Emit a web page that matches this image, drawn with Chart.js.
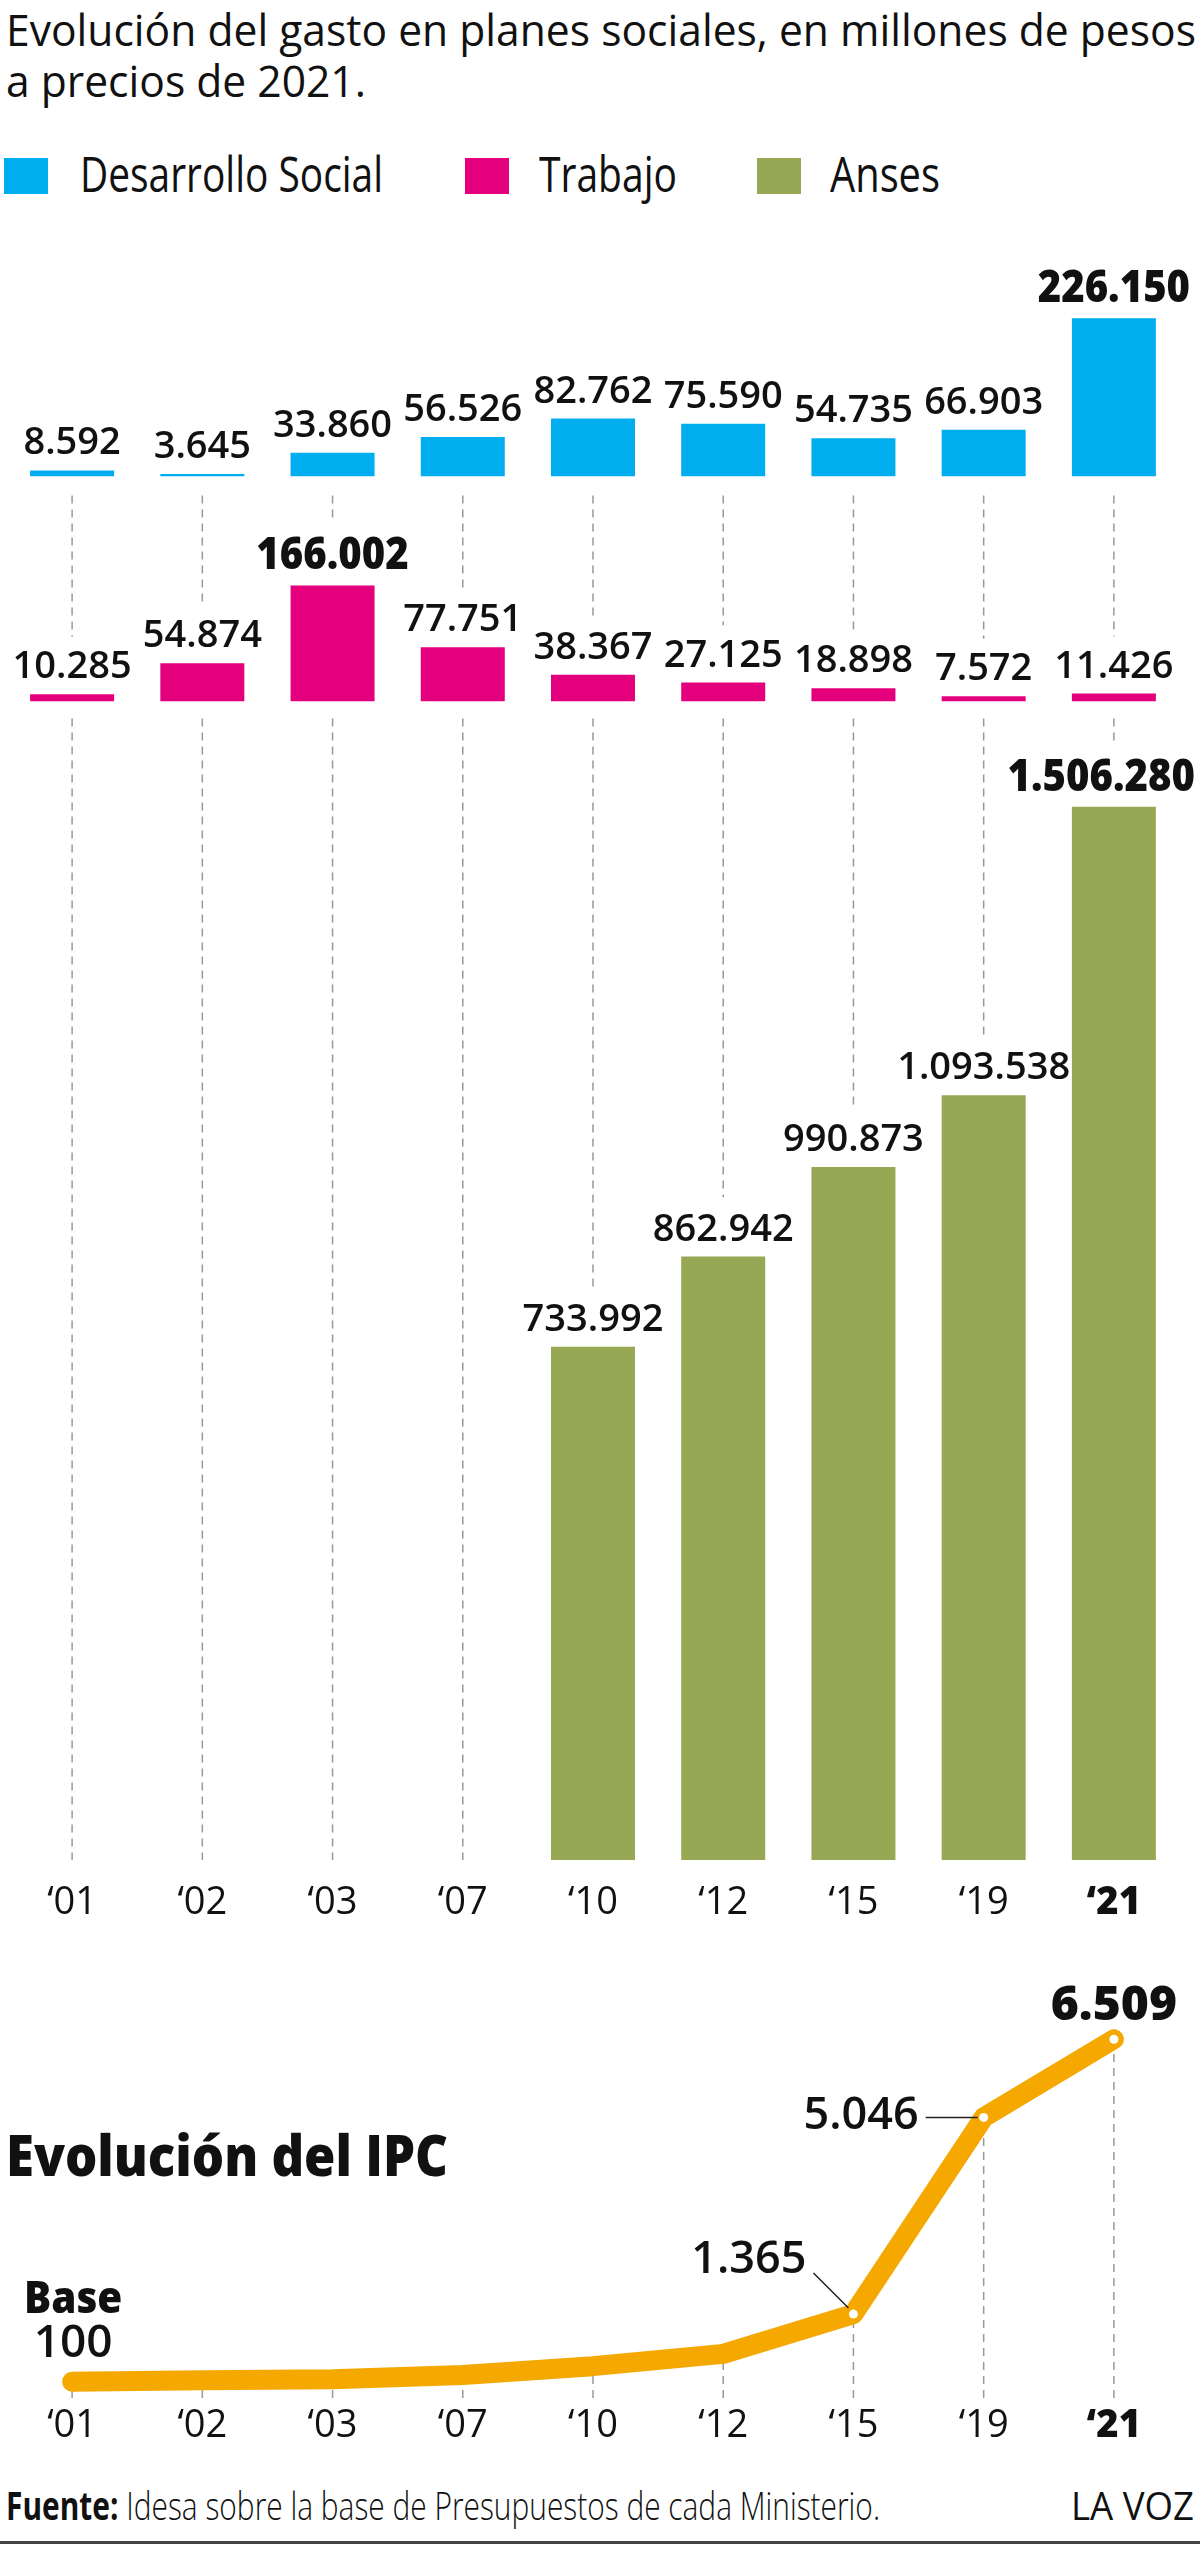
<!DOCTYPE html>
<html lang="es">
<head>
<meta charset="utf-8">
<title>Evolución del gasto en planes sociales</title>
<script src="https://cdn.jsdelivr.net/npm/chart.js@4.4.1/dist/chart.umd.min.js"></script>
<style>
  html, body { margin: 0; padding: 0; background: #fff; }
  body { width: 1200px; height: 2556px; position: relative; overflow: hidden; font-family: 'Open Sans', sans-serif; color: #111; }
  .txt { position: absolute; white-space: nowrap; line-height: 1; transform-origin: 0 0; z-index: 2; }
  .sw { position: absolute; width: 44px; height: 36px; }
  #barBox { position: absolute; left: 0; top: 230px; width: 1200px; height: 1730px; }
  #ipcBox { position: absolute; left: 0; top: 1960px; width: 1200px; height: 510px; }
  #rule { position: absolute; left: 0; top: 2541px; width: 1200px; height: 3px; background: #444; }
</style>
</head>
<body>
<div id="barBox"><canvas id="bars"></canvas></div>
<div id="ipcBox"><canvas id="ipc"></canvas></div>

<div class="txt" id="t1" style="left:6px; top:7px; font-size:44px; font-weight:500;">Evolución del gasto en planes sociales, en millones de pesos</div>
<div class="txt" id="t2" style="left:6px; top:58px; font-size:44px; font-weight:500;">a precios de 2021.</div>
<div id="legend"></div>
<div class="txt" id="ipcTitle" style="left:6px; top:2126px; font-size:56px; font-weight:800;">Evolución del IPC</div>
<div class="txt" id="source" style="left:6px; top:2485px; font-size:39px; font-weight:300;"><b style="font-weight:700">Fuente:</b> Idesa sobre la base de Presupuestos de cada Ministerio.</div>
<div class="txt" id="brand" style="left:1071px; top:2485px; font-size:39px;">LA VOZ</div>
<div id="rule"></div>

<script>
// data
const years = ['‘01', '‘02', '‘03', '‘07', '‘10', '‘12', '‘15', '‘19', '‘21'];
const seriesNames = ['Desarrollo Social', 'Trabajo', 'Anses'];
const seriesColors = ['#00AEEF', '#E4007C', '#96A853'];
const desarrolloSocial = [8592, 3645, 33860, 56526, 82762, 75590, 54735, 66903, 226150];
const trabajo = [10285, 54874, 166002, 77751, 38367, 27125, 18898, 7572, 11426];
const anses = [null, null, null, null, 733992, 862942, 990873, 1093538, 1506280];
const ipc = [100, 125, 143, 225, 390, 620, 1365, 5046, 6509];

const ipcColor = '#F5A800';
const font = "'Open Sans', sans-serif";
Chart.defaults.font.family = font;
Chart.defaults.color = '#111';

// same pesos-per-pixel in the three bar panels
const unitsPerPx = 1430;
const panelPx = { yDS: 186.5, yTr: 225, yAn: 1158.5 };

const fmt = v => String(v).replace(/\B(?=(\d{3})+(?!\d))/g, '.');

// squeeze html text to the width it has in the original
function fitWidth(el, w) {
  const natural = el.getBoundingClientRect().width;
  el.style.transform = 'scaleX(' + (w / natural) + ')';
  return w / natural;
}

// centred canvas text, optionally narrowed, kept inside the right edge
function squeezedText(ctx, text, x, y, sx, maxRight) {
  const half = ctx.measureText(text).width * sx / 2;
  if (maxRight && x + half > maxRight) x = maxRight - half;
  ctx.save();
  ctx.translate(x, y);
  ctx.scale(sx, 1);
  ctx.fillText(text, 0, 0);
  ctx.restore();
}

// legend
const legendX = [[4, 80, 303], [465, 539, 138], [757, 830, 110]];
const legend = document.getElementById('legend');
seriesNames.forEach((name, i) => {
  const sw = document.createElement('div');
  sw.className = 'sw';
  sw.style.cssText = 'left:' + legendX[i][0] + 'px; top:158px; background:' + seriesColors[i];
  legend.appendChild(sw);
  const lb = document.createElement('div');
  lb.className = 'txt';
  lb.style.cssText = 'left:' + legendX[i][1] + 'px; top:148.5px; font-size:49px; font-weight:500;';
  lb.textContent = name;
  legend.appendChild(lb);
  fitWidth(lb, legendX[i][2]);
});

const k = fitWidth(document.getElementById('t1'), 1190);
document.getElementById('t2').style.transform = 'scaleX(' + k + ')';
fitWidth(document.getElementById('ipcTitle'), 442);
fitWidth(document.getElementById('source'), 874);
fitWidth(document.getElementById('brand'), 123);

const tickFont = c => ({ family: font, size: 38, weight: c.index === years.length - 1 ? 800 : 500, lineHeight: 1 });

const isMax = (arr, i) => arr[i] === Math.max(...arr.filter(v => v != null));
const labelSize = big => big ? 45 : 38;

function labelTop(arr, i, scale) {
  return scale.getPixelForValue(arr[i]) - 16 - 0.72 * labelSize(isMax(arr, i));
}

const barLabels = {
  id: 'barLabels',
  beforeDatasetsDraw(chart) {
    const { ctx, scales } = chart;
    ctx.save();
    ctx.strokeStyle = '#999';
    ctx.lineWidth = 1.5;
    ctx.setLineDash([8, 6]);
    years.forEach((y, i) => {
      const px = scales.x.getPixelForValue(i);
      const seg = (a, b) => {
        if (b <= a) return;
        ctx.beginPath(); ctx.moveTo(px, a); ctx.lineTo(px, b); ctx.stroke();
      };
      seg(scales.yDS.getPixelForValue(0) + 19, labelTop(trabajo, i, scales.yTr) - 14);
      seg(scales.yTr.getPixelForValue(0) + 17,
          anses[i] == null ? scales.yAn.getPixelForValue(0) : labelTop(anses, i, scales.yAn) - 16);
    });
    ctx.restore();
  },
  afterDatasetsDraw(chart) {
    const ctx = chart.ctx;
    ctx.save();
    ctx.fillStyle = '#111';
    ctx.textAlign = 'center';
    ctx.textBaseline = 'alphabetic';
    chart.data.datasets.forEach((ds, d) => {
      chart.getDatasetMeta(d).data.forEach((bar, i) => {
        const v = ds.data[i];
        if (v == null) return;
        const big = isMax(ds.data, i);
        ctx.font = (big ? 800 : 600) + ' ' + labelSize(big) + 'px ' + font;
        squeezedText(ctx, fmt(v), bar.x, bar.y - 16, big ? 0.89 : 1, chart.width - 5);
      });
    });
    ctx.restore();
  }
};

const panelAxis = h => ({ display: false, stack: 'panels', stackWeight: h, min: 0, max: h * unitsPerPx });

new Chart(document.getElementById('bars'), {
  type: 'bar',
  data: {
    labels: years,
    datasets: [
      { label: seriesNames[0], data: desarrolloSocial, backgroundColor: seriesColors[0], yAxisID: 'yDS' },
      { label: seriesNames[1], data: trabajo, backgroundColor: seriesColors[1], yAxisID: 'yTr' },
      { label: seriesNames[2], data: anses, backgroundColor: seriesColors[2], yAxisID: 'yAn' }
    ]
  },
  options: {
    responsive: true,
    maintainAspectRatio: false,
    animation: false,
    events: [],
    layout: { padding: { top: 60, left: 7, right: 21, bottom: 14 } },
    datasets: { bar: { grouped: false, categoryPercentage: 1, barPercentage: 0.645, borderWidth: 0 } },
    scales: {
      x: {
        grid: { display: false, drawTicks: false },
        border: { display: false },
        ticks: { padding: 24, font: tickFont, color: '#111', maxRotation: 0, autoSkip: false }
      },
      // last one defined ends up on top of the stack
      yAn: panelAxis(panelPx.yAn),
      yTr: panelAxis(panelPx.yTr),
      yDS: panelAxis(panelPx.yDS)
    },
    plugins: { legend: { display: false }, tooltip: { enabled: false } }
  },
  plugins: [barLabels]
});

// how each IPC value is labelled
const ipcLabelPos = ['base', null, null, null, null, null, 'upLeft', 'left', 'top'];

const ipcLabels = {
  id: 'ipcLabels',
  beforeDatasetsDraw(chart) {
    const ctx = chart.ctx;
    const bottom = chart.chartArea.bottom + 11;
    ctx.save();
    ctx.strokeStyle = '#999';
    ctx.lineWidth = 1.5;
    ctx.setLineDash([8, 6]);
    chart.getDatasetMeta(0).data.forEach(p => {
      ctx.beginPath(); ctx.moveTo(p.x, bottom); ctx.lineTo(p.x, p.y); ctx.stroke();
    });
    ctx.restore();
  },
  afterDatasetsDraw(chart) {
    const ctx = chart.ctx;
    const pts = chart.getDatasetMeta(0).data;
    ctx.save();
    ctx.fillStyle = '#111';
    ctx.strokeStyle = '#222';
    ctx.lineWidth = 1.5;
    ctx.textBaseline = 'alphabetic';
    ipc.forEach((v, i) => {
      const p = pts[i];
      const pos = ipcLabelPos[i];
      if (!pos) return;
      if (pos === 'base') {
        ctx.textAlign = 'center';
        ctx.font = '800 44px ' + font;
        squeezedText(ctx, 'Base', p.x + 1, p.y - 69, 0.92);
        ctx.font = '600 46px ' + font;
        ctx.fillText(fmt(v), p.x + 1, p.y - 25);
      } else if (pos === 'upLeft') {
        ctx.textAlign = 'right';
        ctx.font = '600 45px ' + font;
        ctx.fillText(fmt(v), p.x - 47, p.y - 41);
        ctx.beginPath(); ctx.moveTo(p.x - 40, p.y - 41); ctx.lineTo(p.x - 5, p.y - 6); ctx.stroke();
      } else if (pos === 'left') {
        ctx.textAlign = 'right';
        ctx.font = '600 45px ' + font;
        ctx.fillText(fmt(v), p.x - 65, p.y + 12);
        ctx.beginPath(); ctx.moveTo(p.x - 58, p.y); ctx.lineTo(p.x - 6, p.y); ctx.stroke();
      } else if (pos === 'top') {
        ctx.textAlign = 'center';
        ctx.font = '800 48px ' + font;
        ctx.fillText(fmt(v), p.x, p.y - 19);
      }
    });
    ctx.restore();
  }
};

new Chart(document.getElementById('ipc'), {
  type: 'line',
  data: {
    labels: years,
    datasets: [{
      label: 'IPC',
      data: ipc,
      borderColor: ipcColor,
      borderWidth: 20,
      borderCapStyle: 'round',
      borderJoinStyle: 'round',
      tension: 0,
      clip: false,
      pointRadius: ipcLabelPos.map((p, i) => p && i > 0 ? 4.5 : 0),
      pointBackgroundColor: '#fff',
      pointBorderWidth: 0
    }]
  },
  options: {
    responsive: true,
    maintainAspectRatio: false,
    animation: false,
    events: [],
    layout: { padding: { top: 53, left: 7, right: 21, bottom: 5 } },
    scales: {
      x: {
        offset: true,
        grid: { display: false, drawTicks: false },
        border: { display: false },
        ticks: { padding: 20, font: tickFont, color: '#111', maxRotation: 0, autoSkip: false }
      },
      y: { display: false, min: 0, max: 7000 }
    },
    plugins: { legend: { display: false }, tooltip: { enabled: false } }
  },
  plugins: [ipcLabels]
});
</script>
</body>
</html>
